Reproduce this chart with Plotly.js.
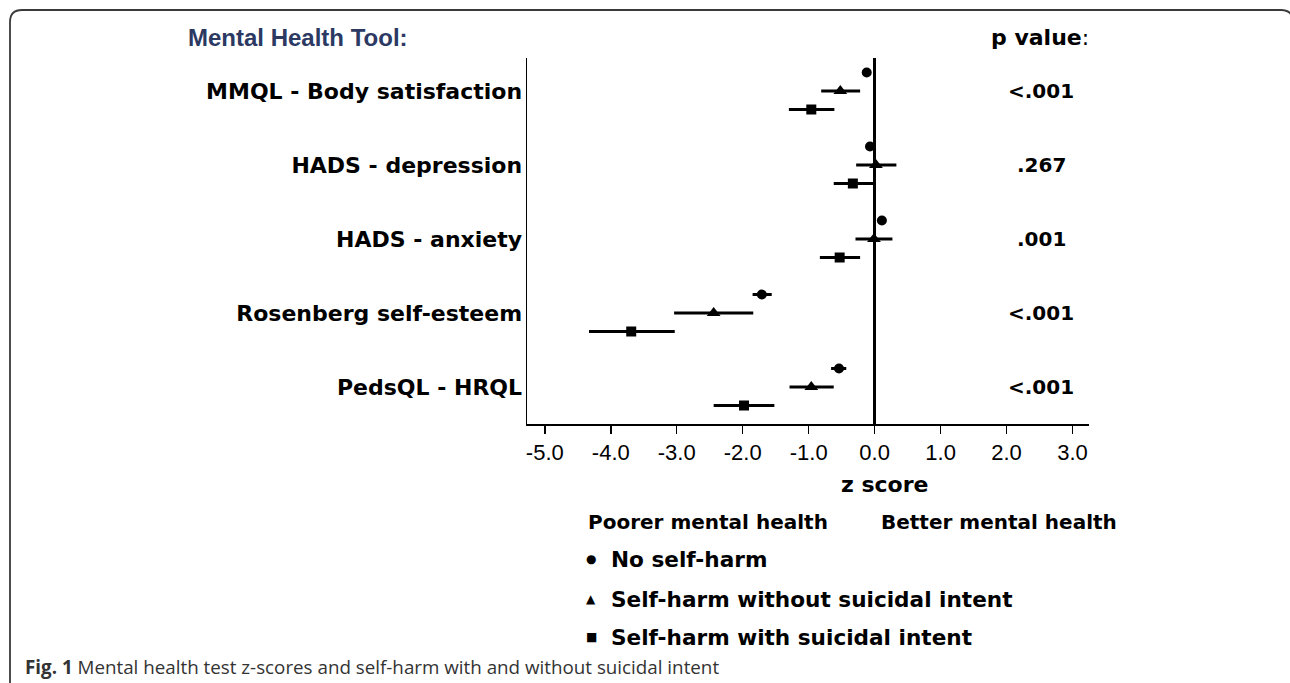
<!DOCTYPE html>
<html>
<head>
<meta charset="utf-8">
<script src="https://cdn.plot.ly/plotly-3.0.1.min.js"></script>
<style>
  html, body { margin: 0; padding: 0; background: #ffffff; }
  #chart { width: 1290px; height: 683px; }
</style>
</head>
<body>
<div id="chart"></div>
<script>
// ---------------- data ----------------
const categories = ["MMQL - Body satisfaction", "HADS - depression", "HADS - anxiety", "Rosenberg self-esteem", "PedsQL - HRQL"];
const pValues = ["<.001", ".267", ".001", "<.001", "<.001"];
const seriesNames = ["No self-harm", "Self-harm without suicidal intent", "Self-harm with suicidal intent"];

// No self-harm
const noHarmEst = [-0.12, -0.07, 0.11, -1.71, -0.54];
const noHarmLo  = [-0.17, -0.12, 0.06, -1.85, -0.66];
const noHarmHi  = [-0.07, -0.02, 0.16, -1.56, -0.43];
// Self-harm without suicidal intent
const harmNoIntentEst = [-0.52, 0.02, -0.01, -2.44, -0.96];
const harmNoIntentLo  = [-0.81, -0.28, -0.29, -3.04, -1.29];
const harmNoIntentHi  = [-0.22, 0.33, 0.27, -1.84, -0.62];
// Self-harm with suicidal intent
const harmIntentEst = [-0.96, -0.33, -0.53, -3.69, -1.98];
const harmIntentLo  = [-1.30, -0.62, -0.83, -4.33, -2.44];
const harmIntentHi  = [-0.61, -0.02, -0.22, -3.03, -1.52];

const xTicks = [-5, -4, -3, -2, -1, 0, 1, 2, 3];
const xTickLabels = ["-5.0", "-4.0", "-3.0", "-2.0", "-1.0", "0.0", "1.0", "2.0", "3.0"];

// ---------------- layout geometry ----------------
const W = 1290, H = 683;
const L = 527, R = 1089, T = 58, B = 424;
const px = x => (x - L) / (R - L);
const py = y => (B - y) / (B - T);

const boldFont = "DejaVu Sans, sans-serif";
const markerSymbols = ["circle", "triangle-up", "square"];
const markerSizes = [10, 12, 10];
const rowOffsets = [-0.25, 0, 0.25];

const groups = [
  [noHarmEst, noHarmLo, noHarmHi],
  [harmNoIntentEst, harmNoIntentLo, harmNoIntentHi],
  [harmIntentEst, harmIntentLo, harmIntentHi]
];

const traces = groups.map((g, k) => {
  const [est, lo, hi] = g;
  return {
    type: "scatter",
    mode: "markers",
    name: seriesNames[k],
    x: est,
    y: categories.map((c, i) => i + rowOffsets[k]),
    marker: { symbol: markerSymbols[k], size: markerSizes[k], color: "#000000" },
    error_x: {
      type: "data",
      symmetric: false,
      array: est.map((v, i) => hi[i] - v),
      arrayminus: est.map((v, i) => v - lo[i]),
      color: "#000000",
      thickness: 3,
      width: 0
    },
    showlegend: false,
    hoverinfo: "skip"
  };
});

const annotations = [];
// title
annotations.push({
  xref: "paper", yref: "paper", x: px(186), y: py(37),
  xanchor: "left", yanchor: "middle", showarrow: false,
  text: "<b>Mental Health Tool:</b>",
  font: { family: "Liberation Sans, Arial, sans-serif", size: 24, color: "#2b3963" }
});
// p value header
annotations.push({
  xref: "paper", yref: "paper", x: px(1040), y: py(38),
  xanchor: "center", yanchor: "middle", showarrow: false,
  text: "<b>p value</b>:",
  font: { family: boldFont, size: 22, color: "#000000" }
});
// p values
pValues.forEach((p, i) => {
  annotations.push({
    xref: "paper", yref: "y", x: px(1041), y: i,
    xanchor: "center", yanchor: "middle", showarrow: false,
    text: "<b>" + p + "</b>",
    font: { family: boldFont, size: 20, color: "#000000" }
  });
});
// axis title
annotations.push({
  xref: "paper", yref: "paper", x: px(884), y: py(484),
  xanchor: "center", yanchor: "middle", showarrow: false,
  text: "<b>z score</b>",
  font: { family: boldFont, size: 22, color: "#000000" }
});
annotations.push({
  xref: "paper", yref: "paper", x: px(830), y: py(522),
  xanchor: "right", yanchor: "middle", showarrow: false,
  text: "<b>Poorer mental health</b>",
  font: { family: boldFont, size: 20, color: "#000000" }
});
annotations.push({
  xref: "paper", yref: "paper", x: px(879), y: py(522),
  xanchor: "left", yanchor: "middle", showarrow: false,
  text: "<b>Better mental health</b>",
  font: { family: boldFont, size: 20, color: "#000000" }
});
// legend
const legendGlyphs = ["●", "▲", "■"];
const legendY = [559, 599, 637];
seriesNames.forEach((n, k) => {
  annotations.push({
    xref: "paper", yref: "paper", x: px(591), y: py(legendY[k]),
    xanchor: "center", yanchor: "middle", showarrow: false,
    text: legendGlyphs[k],
    font: { family: "DejaVu Sans, sans-serif", size: 12, color: "#000000" }
  });
  annotations.push({
    xref: "paper", yref: "paper", x: px(609), y: py(legendY[k]),
    xanchor: "left", yanchor: "middle", showarrow: false,
    text: "<b>" + n + "</b>",
    font: { family: boldFont, size: 21.6, color: "#000000" }
  });
});
// caption
annotations.push({
  xref: "paper", yref: "paper", x: px(23), y: py(667),
  xanchor: "left", yanchor: "middle", showarrow: false,
  text: "<b>Fig. 1</b> Mental health test z-scores and self-harm with and without suicidal intent",
  font: { family: "Open Sans, sans-serif", size: 18.8, color: "#333333" }
});

// frame (rounded box)
const fx0 = px(10), fx1 = px(1293), fy0 = py(10), fy1 = py(692);
const rx = 12 / (R - L), ry = 12 / (B - T);
const framePath = `M ${fx0} ${fy1} L ${fx0} ${fy0 - ry} Q ${fx0} ${fy0} ${fx0 + rx} ${fy0} L ${fx1 - rx} ${fy0} Q ${fx1} ${fy0} ${fx1} ${fy0 - ry} L ${fx1} ${fy1}`;

const layout = {
  width: W, height: H,
  margin: { l: L, r: W - R, t: T, b: H - B, pad: 0 },
  paper_bgcolor: "#ffffff",
  plot_bgcolor: "rgba(0,0,0,0)",
  showlegend: false,
  xaxis: {
    range: [-5.27, 3.25],
    tickvals: xTicks,
    ticktext: xTickLabels,
    ticks: "outside", ticklen: 8, tickwidth: 1.5, tickcolor: "#000000",
    showline: true, linewidth: 1.5, linecolor: "#000000",
    zeroline: true, zerolinecolor: "#000000", zerolinewidth: 2.5,
    showgrid: false,
    tickfont: { family: "Liberation Sans, Arial, sans-serif", size: 22, color: "#000000" },
    fixedrange: true
  },
  yaxis: {
    range: [4.5, -0.446],
    tickvals: categories.map((c, i) => i),
    ticktext: categories.map(c => "<b>" + c + "</b>"),
    ticks: "",
    showline: true, linewidth: 1.5, linecolor: "#000000",
    zeroline: false, showgrid: false,
    ticklabelstandoff: -1,
    tickfont: { family: boldFont, size: 22, color: "#000000" },
    fixedrange: true
  },
  annotations: annotations,
  shapes: [{
    type: "path", xref: "paper", yref: "paper", path: framePath,
    line: { color: "#3a3a3a", width: 1.8 }
  }]
};

Plotly.newPlot("chart", traces, layout, { displayModeBar: false, staticPlot: true });
</script>
</body>
</html>
